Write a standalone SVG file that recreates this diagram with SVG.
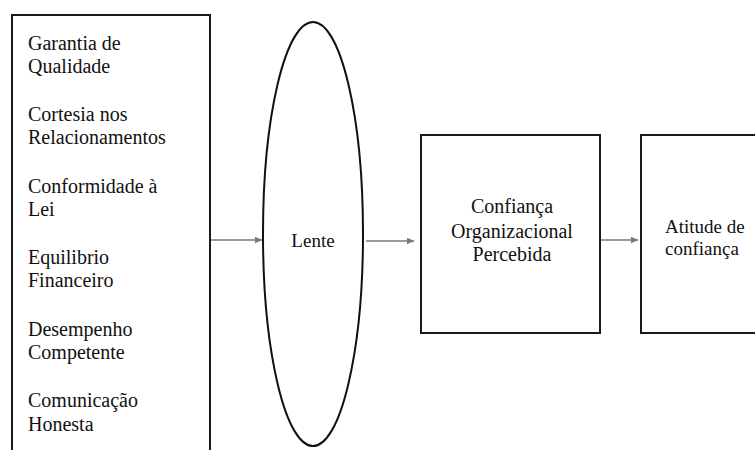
<svg xmlns="http://www.w3.org/2000/svg" width="755" height="450" viewBox="0 0 755 450">
<style>
.box{fill:#fff;stroke:#1a1a1a;stroke-width:2}
.t{font-family:'Liberation Serif','Times New Roman',Times,'Nimbus Roman','Nimbus Roman No9 L','Noto Serif','FreeSerif','DejaVu Serif',Georgia,serif;font-size:20px;fill:#111}
.c{text-anchor:middle}
.conn{stroke:#7a7a7a;stroke-width:1.6;fill:none}
</style>
<defs>
<marker id="ah" markerWidth="8" markerHeight="7" refX="7.5" refY="3.5" orient="auto" markerUnits="userSpaceOnUse">
<path d="M0,0 L8,3.5 L0,7 Z" fill="#7a7a7a"/>
</marker>
</defs>
<rect width="755" height="450" fill="#fff"/>
<g id="fatores">
<rect class="box" x="12" y="15" width="198" height="445"/>
<text class="t" x="28" y="50">Garantia de</text>
<text class="t" x="28" y="73">Qualidade</text>
<text class="t" x="28" y="121">Cortesia nos</text>
<text class="t" x="28" y="144">Relacionamentos</text>
<text class="t" x="28" y="193">Conformidade à</text>
<text class="t" x="28" y="216">Lei</text>
<text class="t" x="28" y="264">Equilibrio</text>
<text class="t" x="28" y="287">Financeiro</text>
<text class="t" x="28" y="336">Desempenho</text>
<text class="t" x="28" y="359">Competente</text>
<text class="t" x="28" y="407">Comunicação</text>
<text class="t" x="28" y="431">Honesta</text>
</g>
<g id="lente">
<ellipse cx="313" cy="234" rx="50" ry="212" fill="#fff" stroke="#111" stroke-width="2"/>
<text class="t c" x="313" y="247" style="font-size:19px">Lente</text>
</g>
<g id="confianca">
<rect class="box" x="421" y="135" width="179" height="198"/>
<text class="t c" x="512" y="213">Confiança</text>
<text class="t c" x="512" y="238">Organizacional</text>
<text class="t c" x="512" y="261">Percebida</text>
</g>
<g id="atitude">
<rect class="box" x="641" y="135" width="130" height="198"/>
<text class="t" x="665" y="233" style="font-size:19px">Atitude de</text>
<text class="t" x="665" y="255" style="font-size:19px">confiança</text>
</g>
<g id="connectors">
<line class="conn" x1="211" y1="240" x2="262" y2="240" marker-end="url(#ah)"/>
<line class="conn" x1="366" y1="241" x2="414" y2="241" marker-end="url(#ah)"/>
<line class="conn" x1="601" y1="240" x2="638" y2="240" marker-end="url(#ah)"/>
</g>
</svg>
